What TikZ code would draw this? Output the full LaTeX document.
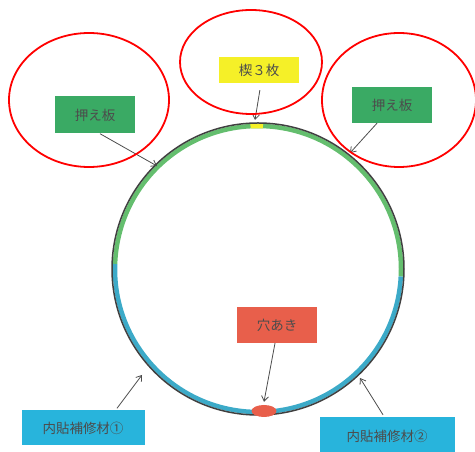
\documentclass[tikz,border=0pt]{standalone}
\usepackage{fontspec}
\setmainfont{Noto Sans CJK JP}
\usepackage{xcolor}
\usetikzlibrary{arrows, arrows.meta, shapes.geometric, positioning, calc}

\definecolor{boxgreen}{RGB}{58,170,100}
\definecolor{boxyellow}{RGB}{245,240,40}
\definecolor{boxred}{RGB}{232,95,75}
\definecolor{boxcyan}{RGB}{40,180,220}
\definecolor{ringgreen}{RGB}{100,190,110}
\definecolor{ringblue}{RGB}{60,170,200}

\begin{document}
\begin{tikzpicture}[x=1pt, y=1pt,
        label box/.style={inner sep=0pt, minimum width=80pt, minimum height=36pt, text=black!70, font=\fontsize{13.5}{16}\selectfont},
        pointer/.style={-{Straight Barb[length=5pt, width=7pt]}, draw=black!70, line width=0.8pt},
        mark ring/.style={draw=red, line width=1.8pt}]
        \useasboundingbox (0,0) rectangle (475,452);

        \coordinate (o) at (258,183);

        % ring
        \draw[ringgreen, line width=4.5pt] ([shift={(-3:143pt)}]o) arc[start angle=-3, end angle=178, radius=143pt];
        \draw[ringblue, line width=4.5pt] ([shift={(178:143pt)}]o) arc[start angle=178, end angle=357, radius=143pt];
        \draw[boxyellow, line width=4.5pt] ([shift={(88:143pt)}]o) arc[start angle=88, end angle=93, radius=143pt];
        \draw[black!75, line width=1.5pt] (o) circle[radius=146pt];
        \node[ellipse, fill=boxred, inner sep=0pt, minimum width=25pt, minimum height=12pt] (hole) at (264,41) {};

        \node[label box, fill=boxgreen, minimum height=37pt] (lplate) at (95,337) {押え板};
        \node[label box, fill=boxyellow, minimum height=26pt] (wedge) at (259,382) {楔３枚};
        \node[label box, fill=boxgreen] (rplate) at (392,347) {押え板};
        \node[label box, fill=boxred] (holebox) at (277,127) {穴あき};
        \node[label box, fill=boxcyan, minimum width=123pt, minimum height=35pt] (patchA) at (83,24) {内貼補修材①};
        \node[label box, fill=boxcyan, minimum width=135pt, minimum height=38pt] (patchB) at (387,16) {内貼補修材②};

        \coordinate (lplate tip) at (157,286);
        \coordinate (wedge tip) at (255,332);
        \coordinate (rplate tip) at (350,299);
        \coordinate (patchA tip) at (142,77);
        \coordinate (patchB tip) at (360,74);

        \draw[pointer] ([xshift=5pt]lplate.south) -- (lplate tip);
        \draw[pointer, shorten <=7pt] ([xshift=2pt]wedge.south) -- (wedge tip);
        \draw[pointer] ([xshift=-15pt]rplate.south) -- (rplate tip);
        \draw[pointer] ([xshift=-2pt]holebox.south) -- ([yshift=3pt]hole.north);
        \draw[pointer] ([xshift=34pt, yshift=2pt]patchA.north) -- (patchA tip);
        \draw[pointer] ([xshift=-4pt, yshift=2pt]patchB.north) -- (patchB tip);

        \draw[mark ring] (89,352) ellipse[x radius=80pt, y radius=67pt];
        \draw[mark ring] (251,390) ellipse[x radius=71pt, y radius=52pt];
        \draw[mark ring] (399,352) ellipse[x radius=77pt, y radius=67pt];
\end{tikzpicture}
\end{document}
